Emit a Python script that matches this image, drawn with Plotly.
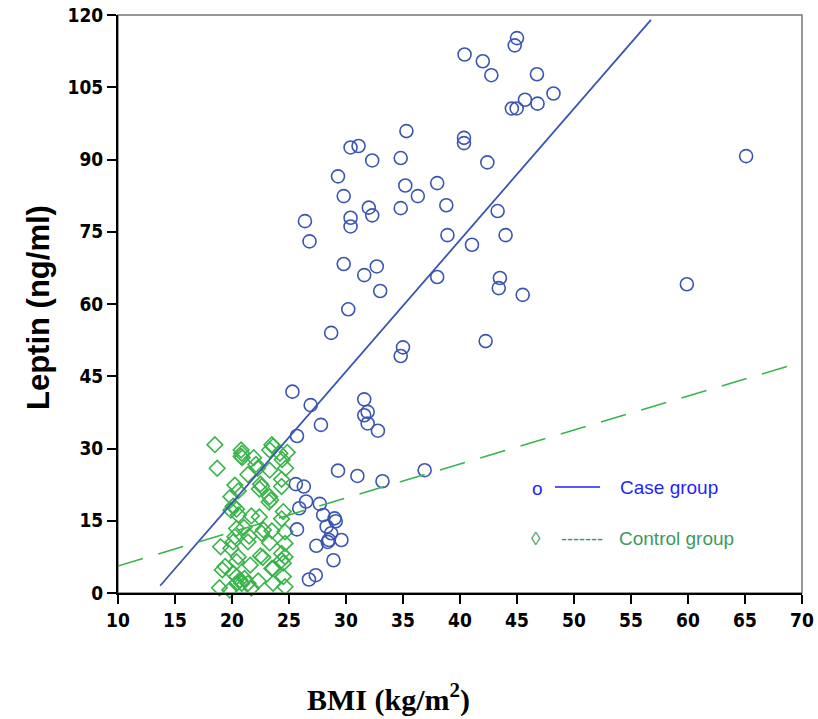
import plotly.graph_objects as go

# ---- Case group (BMI, Leptin) ----
case_bmi = [45.0, 44.8, 40.4, 42.0, 42.75, 46.75, 48.2, 45.7, 46.8, 44.55, 44.97,
            35.3, 40.35, 40.35, 30.4, 31.1, 32.3, 34.8, 42.4, 65.1,
            29.3, 35.2, 38.0, 36.3, 29.8, 32.0, 32.3, 34.8, 38.8, 30.4, 30.4,
            26.4, 26.8, 38.9, 41.05, 43.3, 44.0, 29.8, 31.6, 32.7, 38.0,
            43.5, 43.4, 45.5, 33.0, 59.9, 30.2, 28.7, 35.0, 34.8, 42.25,
            25.3, 26.9, 31.6, 31.9, 31.6, 31.9, 27.8, 32.8, 25.7,
            29.3, 31.0, 33.2, 36.9, 25.6, 26.3, 26.5, 25.9, 27.7, 28.0,
            29.0, 29.1, 28.3, 28.7, 28.5, 28.4, 29.6, 25.7, 27.4, 28.9,
            26.75, 27.35]
case_leptin = [115.2, 113.7, 111.8, 110.4, 107.5, 107.7, 103.7, 102.4, 101.6, 100.6, 100.6,
               95.9, 94.5, 93.4, 92.5, 92.8, 89.8, 90.3, 89.4, 90.7,
               86.5, 84.6, 85.1, 82.4, 82.4, 80.0, 78.4, 79.9, 80.5, 77.9, 76.1,
               77.2, 73.0, 74.3, 72.3, 79.3, 74.3, 68.3, 66.0, 67.8, 65.6,
               65.4, 63.3, 61.9, 62.7, 64.1, 58.9, 54.0, 51.0, 49.2, 52.3,
               41.8, 39.0, 40.2, 37.6, 36.9, 35.2, 34.9, 33.7, 32.6,
               25.4, 24.3, 23.2, 25.5, 22.6, 22.1, 19.0, 17.6, 18.5, 16.2,
               15.5, 14.9, 13.8, 12.4, 11.0, 10.6, 11.0, 13.2, 9.8, 6.8,
               2.8, 3.7]

# ---- Control group (BMI, Leptin) ----
ctrl_bmi = [18.5, 18.7, 20.8, 20.85, 20.8, 20.9, 21.9, 22.1, 23.5, 23.6, 23.3,
            24.2, 24.85, 24.4, 22.25, 23.3, 24.7, 21.4, 24.35, 22.5, 22.6, 22.4,
            20.25, 24.35, 20.55, 19.9, 23.3, 23.4, 23.25, 20.1, 20.4, 20.55,
            21.7, 22.4, 24.5, 24.35, 21.05, 21.5, 22.75, 23.5, 23.3, 24.65,
            24.65, 20.25, 20.1, 19.0, 19.9, 20.55, 20.4, 22.5, 22.7, 24.35,
            24.65, 24.35, 24.5, 21.6, 23.6, 19.15, 19.4, 20.1, 20.4, 20.7,
            20.85, 20.4, 21.1, 21.4, 22.3, 24.5, 23.6, 18.9, 19.8, 21.7,
            24.65, 19.9, 20.4, 21.4, 22.6, 23.5]
ctrl_leptin = [30.8, 25.9, 29.7, 29.0, 28.4, 28.1, 28.1, 26.7, 30.8, 30.4, 29.7,
               29.0, 29.2, 27.7, 25.9, 25.5, 25.9, 24.6, 23.6, 22.6, 22.1, 21.6,
               22.4, 22.1, 21.2, 20.0, 20.0, 19.3, 18.9, 18.0, 17.4, 16.2,
               16.0, 15.8, 16.9, 15.4, 13.6, 11.8, 13.1, 12.9, 10.4, 12.7,
               10.3, 11.7, 10.6, 9.6, 9.3, 7.5, 6.5, 7.7, 7.4, 8.2,
               7.5, 6.8, 6.2, 5.8, 5.1, 4.8, 5.5, 4.1, 3.4, 2.7,
               2.0, 2.0, 3.0, 2.0, 2.5, 3.4, 2.0, 1.1, 0.6, 1.0,
               1.3, 17.2, 13.4, 10.6, 12.4, 5.1]

# ---- Regression lines (end points) ----
case_fit_bmi = [13.7, 56.75]
case_fit_leptin = [1.5, 119.0]
ctrl_fit_bmi = [10.0, 68.8]
ctrl_fit_leptin = [5.6, 47.1]

x_ticks = list(range(10, 71, 5))
y_ticks = list(range(0, 121, 15))

BLUE = "#3a55b4"
GREEN = "#38b449"

fig = go.Figure()
fig.add_trace(go.Scatter(x=ctrl_bmi, y=ctrl_leptin, mode="markers",
                         marker=dict(symbol="diamond-open", size=12, color=GREEN,
                                     line=dict(width=1.6, color=GREEN)),
                         showlegend=False, cliponaxis=False))
fig.add_trace(go.Scatter(x=case_bmi, y=case_leptin, mode="markers",
                         marker=dict(symbol="circle-open", size=13, color=BLUE,
                                     line=dict(width=1.6, color=BLUE)),
                         showlegend=False))
fig.add_trace(go.Scatter(x=case_fit_bmi, y=case_fit_leptin, mode="lines",
                         line=dict(color=BLUE, width=1.8), showlegend=False))
fig.add_trace(go.Scatter(x=ctrl_fit_bmi, y=ctrl_fit_leptin, mode="lines",
                         line=dict(color=GREEN, width=1.6, dash="26px,16px"),
                         showlegend=False))

tickfont = dict(family="DejaVu Sans Condensed, Liberation Sans Narrow, Arial Narrow, Liberation Sans",
                size=19, color="black", weight="bold")

fig.update_xaxes(range=[10, 70], tickvals=x_ticks, ticktext=[str(v) for v in x_ticks],
                 showgrid=False, zeroline=False, showline=True, linecolor="black",
                 linewidth=2, ticks="outside", ticklen=9, tickwidth=2,
                 tickcolor="black", tickfont=tickfont, ticklabeloverflow="allow",
                 automargin=False)
fig.update_yaxes(range=[0, 120], tickvals=y_ticks, ticktext=[str(v) for v in y_ticks],
                 showgrid=False, zeroline=False, showline=True, linecolor="black",
                 linewidth=2, ticks="outside", ticklen=9, tickwidth=2,
                 tickcolor="black", tickfont=tickfont, ticklabeloverflow="allow",
                 automargin=False)

W, H = 818, 719
L, R, T, B = 118, 16, 15, 126
pw, ph = W - L - R, H - T - B


def px(x):
    return (x - L) / pw


def py(y):
    return (H - B - y) / ph


shapes = [
    dict(type="rect", xref="paper", yref="paper", x0=0, x1=1, y0=0, y1=1,
         line=dict(color="#777777", width=1.5), layer="below"),
    dict(type="line", xref="paper", yref="paper", x0=px(555), x1=px(600),
         y0=py(487), y1=py(487), line=dict(color="#1f1fff", width=1.5)),
]

legend_font = "Liberation Sans, Arial, sans-serif"
annotations = [
    dict(text="Leptin (ng/ml)", x=px(38), y=py(308), xref="paper", yref="paper",
         showarrow=False, textangle=-90,
         font=dict(family="Liberation Sans, Arial, sans-serif", size=31,
                   color="black", weight="bold"),
         xanchor="center", yanchor="middle"),
    dict(text="BMI (kg/m<sup>2</sup>)", x=px(388), y=py(697), xref="paper",
         yref="paper", showarrow=False,
         font=dict(family="Liberation Serif, Times New Roman, serif", size=30,
                   color="black", weight="bold"),
         xanchor="center", yanchor="middle"),
    dict(text="o", x=px(537), y=py(488), xref="paper", yref="paper", showarrow=False,
         font=dict(family=legend_font, size=19, color="#1f1fff"),
         xanchor="center", yanchor="middle"),
    dict(text="Case group", x=px(618), y=py(487), xref="paper", yref="paper",
         showarrow=False, font=dict(family=legend_font, size=19, color="#1f1fff"),
         xanchor="left", yanchor="middle"),
    dict(text="◊", x=px(536), y=py(538), xref="paper", yref="paper", showarrow=False,
         font=dict(family=legend_font, size=19, color="#3c9a5f"),
         xanchor="center", yanchor="middle"),
    dict(text="-------", x=px(582), y=py(539), xref="paper", yref="paper",
         showarrow=False, font=dict(family=legend_font, size=18, color="#3c9a5f"),
         xanchor="center", yanchor="middle"),
    dict(text="Control group", x=px(617), y=py(538), xref="paper", yref="paper",
         showarrow=False, font=dict(family=legend_font, size=19, color="#3c9a5f"),
         xanchor="left", yanchor="middle"),
]

fig.update_layout(width=W, height=H, margin=dict(l=L, r=R, t=T, b=B),
                  plot_bgcolor="white", paper_bgcolor="white",
                  shapes=shapes, annotations=annotations, showlegend=False)

fig.write_html("out.html")
